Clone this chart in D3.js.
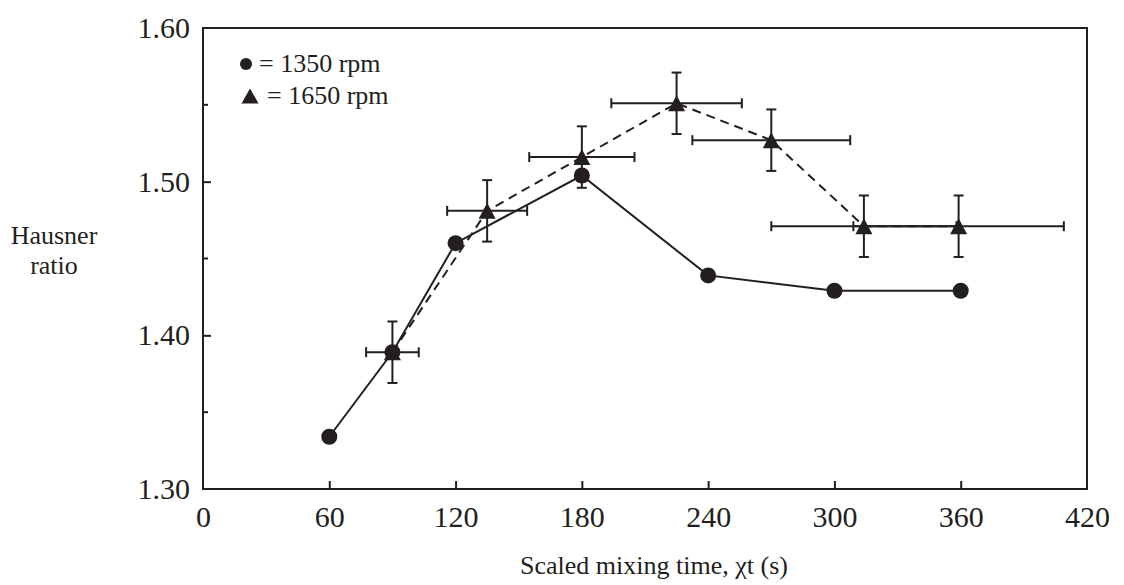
<!DOCTYPE html>
<html>
<head>
<meta charset="utf-8">
<script src="https://cdn.jsdelivr.net/npm/d3@7"></script>
<style>
  html, body { margin: 0; padding: 0; background: #fff; }
  svg { display: block; }
  text { font-family: "Liberation Serif", "Times New Roman", serif; fill: #231f20; }
</style>
</head>
<body>
<svg id="chart" width="1124" height="585"></svg>
<script>
// Hausner ratio at 1350 rpm (no error bars)
const rpm1350Time = [60, 90, 120, 180, 240, 300, 360];
const rpm1350Ratio = [1.334, 1.389, 1.460, 1.504, 1.439, 1.429, 1.429];

// Hausner ratio at 1650 rpm, with horizontal (time) and vertical (ratio) error
const rpm1650Time = [90, 135, 180, 225, 270, 314, 359];
const rpm1650Ratio = [1.389, 1.481, 1.516, 1.551, 1.527, 1.471, 1.471];
const rpm1650TimeErr = [12.5, 19, 25, 31, 37.5, 44, 50];
const rpm1650RatioErr = [0.02, 0.02, 0.02, 0.02, 0.02, 0.02, 0.02];

const xTicks = [0, 60, 120, 180, 240, 300, 360, 420];
const yTicks = [1.30, 1.40, 1.50, 1.60];
const yMinorTicks = [1.35, 1.45, 1.55];

const legendLabels = ["= 1350 rpm", "= 1650 rpm"];
const xTitle = "Scaled mixing time, \u03c7t (s)";
const yTitle = ["Hausner", "ratio"];

const ink = "#231f20";
const svg = d3.select("#chart");

const plot = { left: 203, right: 1087, top: 28, bottom: 489 };
const x = d3.scaleLinear().domain([0, 420]).range([plot.left, plot.right]);
const y = d3.scaleLinear().domain([1.30, 1.60]).range([plot.bottom, plot.top]);

// Axes with inward ticks
const gx = svg.append("g")
  .attr("transform", `translate(0,${plot.bottom})`)
  .call(d3.axisBottom(x).tickValues(xTicks).tickFormat(d3.format("d"))
    .tickSizeInner(-8).tickSizeOuter(0).tickPadding(17));
gx.select(".domain").remove();
gx.selectAll(".tick").filter(d => d === 0 || d === 420).select("line").remove();
gx.selectAll(".tick line").attr("stroke", ink).attr("stroke-width", 2);
gx.selectAll(".tick text").attr("font-size", 30).attr("font-family", "Liberation Serif, serif").attr("fill", ink);

const gy = svg.append("g")
  .attr("transform", `translate(${plot.left},0)`)
  .call(d3.axisLeft(y).tickValues(yTicks).tickFormat(d3.format(".2f"))
    .tickSizeInner(-8).tickSizeOuter(0).tickPadding(13));
gy.select(".domain").remove();
gy.selectAll(".tick").filter(d => d === 1.30 || d === 1.60).select("line").remove();
gy.selectAll(".tick line").attr("stroke", ink).attr("stroke-width", 2);
gy.selectAll(".tick text").attr("font-size", 30).attr("font-family", "Liberation Serif, serif").attr("fill", ink);

gy.selectAll(".minor").data(yMinorTicks).join("line")
  .attr("class", "minor")
  .attr("x1", 0).attr("x2", 5)
  .attr("y1", d => y(d)).attr("y2", d => y(d))
  .attr("stroke", ink).attr("stroke-width", 2);

// Plot frame
svg.append("rect")
  .attr("x", plot.left).attr("y", plot.top)
  .attr("width", plot.right - plot.left).attr("height", plot.bottom - plot.top)
  .attr("fill", "none").attr("stroke", ink).attr("stroke-width", 2);

// Series lines
const s1350 = rpm1350Time.map((t, i) => ({ t, v: rpm1350Ratio[i] }));
const s1650 = rpm1650Time.map((t, i) => ({
  t, v: rpm1650Ratio[i], te: rpm1650TimeErr[i], ve: rpm1650RatioErr[i]
}));
const line = d3.line().x(d => x(d.t)).y(d => y(d.v));

svg.append("path").datum(s1650)
  .attr("d", line).attr("fill", "none")
  .attr("stroke", ink).attr("stroke-width", 2).attr("stroke-dasharray", "9,6");

svg.append("path").datum(s1350)
  .attr("d", line).attr("fill", "none")
  .attr("stroke", ink).attr("stroke-width", 2);

// Error bars for 1650 rpm
const cap = 5;
const eb = svg.append("g").attr("stroke", ink).attr("stroke-width", 2);
s1650.forEach(d => {
  const cx = x(d.t), cy = y(d.v);
  const x0 = x(d.t - d.te), x1 = x(d.t + d.te);
  const y0 = y(d.v - d.ve), y1 = y(d.v + d.ve);
  eb.append("line").attr("x1", x0).attr("x2", x1).attr("y1", cy).attr("y2", cy);
  eb.append("line").attr("x1", x0).attr("x2", x0).attr("y1", cy - cap).attr("y2", cy + cap);
  eb.append("line").attr("x1", x1).attr("x2", x1).attr("y1", cy - cap).attr("y2", cy + cap);
  eb.append("line").attr("x1", cx).attr("x2", cx).attr("y1", y0).attr("y2", y1);
  eb.append("line").attr("x1", cx - cap).attr("x2", cx + cap).attr("y1", y0).attr("y2", y0);
  eb.append("line").attr("x1", cx - cap).attr("x2", cx + cap).attr("y1", y1).attr("y2", y1);
});

// Markers
const tri = (cx, cy, hw, hh) => `M${cx},${cy - hh}L${cx + hw},${cy + hh}L${cx - hw},${cy + hh}Z`;

svg.append("g").selectAll("path").data(s1650).join("path")
  .attr("d", d => tri(x(d.t), y(d.v), 8.5, 8))
  .attr("fill", ink);

svg.append("g").selectAll("circle").data(s1350).join("circle")
  .attr("cx", d => x(d.t)).attr("cy", d => y(d.v)).attr("r", 8)
  .attr("fill", ink);

// Legend
const lg = svg.append("g");
lg.append("circle").attr("cx", 246).attr("cy", 64).attr("r", 6).attr("fill", ink);
lg.append("path").attr("d", tri(250, 96, 8.5, 7.5)).attr("fill", ink);
lg.append("text").attr("x", 259).attr("y", 72).attr("font-size", 26).text(legendLabels[0]);
lg.append("text").attr("x", 267).attr("y", 104).attr("font-size", 26).text(legendLabels[1]);

// Axis titles
svg.append("text").attr("x", 654).attr("y", 574).attr("text-anchor", "middle")
  .attr("font-size", 26).text(xTitle);
svg.append("text").attr("x", 54).attr("y", 244).attr("text-anchor", "middle")
  .attr("font-size", 26).text(yTitle[0]);
svg.append("text").attr("x", 54).attr("y", 274).attr("text-anchor", "middle")
  .attr("font-size", 26).text(yTitle[1]);
</script>
</body>
</html>
